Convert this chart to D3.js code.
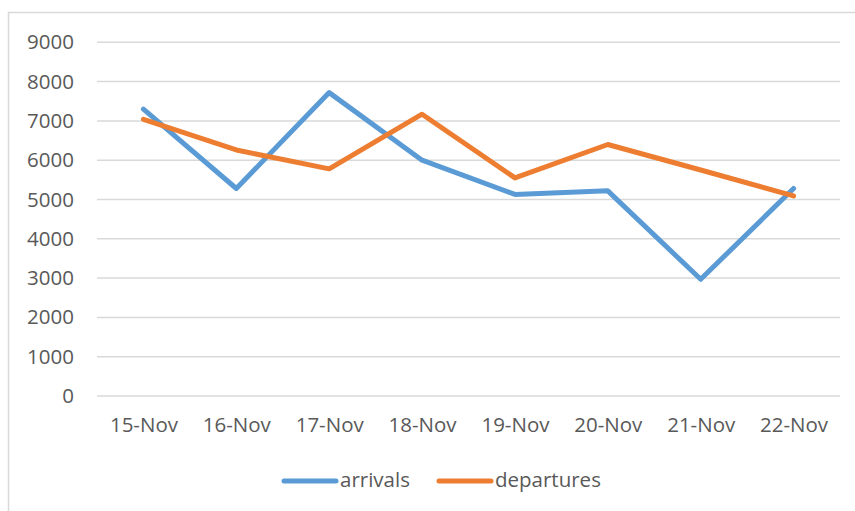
<!DOCTYPE html>
<html>
<head>
<meta charset="utf-8">
<script src="https://cdn.jsdelivr.net/npm/d3@7"></script>
<style>
html,body{margin:0;padding:0;background:#fff;}
svg{display:block;}
</style>
</head>
<body>
<script>
const categories = ["15-Nov","16-Nov","17-Nov","18-Nov","19-Nov","20-Nov","21-Nov","22-Nov"];
const arrivals   = [7300, 5280, 7720, 6000, 5130, 5220, 2970, 5280];
const departures = [7040, 6260, 5780, 7170, 5550, 6400, 5750, 5090];
const yTicks = [0,1000,2000,3000,4000,5000,6000,7000,8000,9000];
const seriesNames = ["arrivals","departures"];
const colors = ["#5B9BD5","#ED7D31"];

const W = 855, H = 511;
const svg = d3.select("body").append("svg").attr("width", W).attr("height", H);
const font = "'Open Sans', sans-serif";
const fs = 20.5;

// chart border (top and left visible)
svg.append("rect").attr("x", 8.5).attr("y", 12.5).attr("width", 860).attr("height", 520)
  .attr("fill", "none").attr("stroke", "#D9D9D9").attr("stroke-width", 1.5);

const x = d3.scalePoint().domain(categories).range([97, 840]).padding(0.5);
const y = d3.scaleLinear().domain([0, 9000]).range([396, 42.3]);

// gridlines
svg.append("g").selectAll("line").data(yTicks).join("line")
  .attr("x1", 97).attr("x2", 840)
  .attr("y1", d => y(d)).attr("y2", d => y(d))
  .attr("stroke", "#D9D9D9").attr("stroke-width", 1.5);

// y axis labels
const yAxis = d3.axisLeft(y).tickValues(yTicks).tickSize(0).tickPadding(0).tickFormat(d3.format("d"));
const gy = svg.append("g").attr("transform", "translate(74,0)").call(yAxis);
gy.select(".domain").remove();
gy.selectAll("text").attr("font-family", font).attr("font-size", fs).attr("fill", "#595959");

// x axis labels
const xAxis = d3.axisBottom(x).tickSize(0).tickPadding(0);
const gx = svg.append("g").attr("transform", "translate(0,417)").call(xAxis);
gx.select(".domain").remove();
gx.selectAll("text").attr("font-family", font).attr("font-size", fs).attr("fill", "#595959");

// lines
const line = d3.line().x((d, i) => x(categories[i])).y(d => y(d));
[arrivals, departures].forEach((s, k) => {
  svg.append("path").datum(s).attr("d", line)
    .attr("fill", "none").attr("stroke", colors[k]).attr("stroke-width", 5)
    .attr("stroke-linejoin", "round").attr("stroke-linecap", "round");
});

// legend
const legend = [{x1: 284, x2: 336, tx: 340}, {x1: 439, x2: 491, tx: 495}];
seriesNames.forEach((n, k) => {
  const L = legend[k];
  svg.append("line").attr("x1", L.x1).attr("x2", L.x2).attr("y1", 481).attr("y2", 481)
    .attr("stroke", colors[k]).attr("stroke-width", 5).attr("stroke-linecap", "round");
  svg.append("text").attr("x", L.tx).attr("y", 480).attr("dy", "0.35em")
    .attr("font-family", font).attr("font-size", fs).attr("fill", "#595959").text(n);
});
</script>
</body>
</html>
